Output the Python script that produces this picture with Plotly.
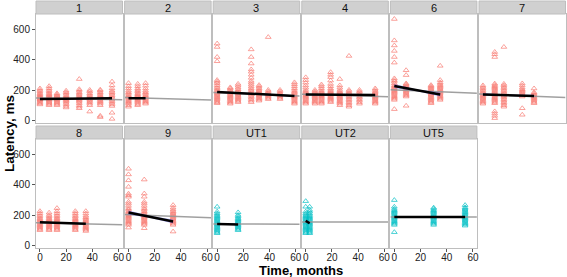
import plotly.graph_objects as go

# ---------------- data ----------------
panels = ["1", "2", "3", "4", "6", "7", "8", "9", "UT1", "UT2", "UT5"]
groups = ["A", "A", "A", "A", "A", "A", "A", "A", "UT", "UT", "UT"]

p1_t = [0, 7, 13, 20, 30, 38, 46, 55]
p1_y = [
    [105, 112, 120, 128, 135, 140, 146, 152, 158, 165, 172, 180, 190, 200, 210],
    [100, 108, 115, 122, 130, 138, 145, 150, 158, 165, 172, 180, 190, 200, 212, 225],
    [100, 108, 115, 122, 130, 137, 144, 150, 157, 163, 170, 178],
    [85, 95, 105, 115, 125, 133, 140, 148, 156, 165, 175, 185, 195],
    [80, 90, 100, 112, 122, 130, 138, 145, 152, 160, 168, 176, 185, 195, 205, 272],
    [58, 100, 110, 120, 128, 136, 144, 152, 160, 168, 178, 190, 200],
    [22, 30, 100, 110, 118, 126, 134, 142, 150, 158, 166, 175, 185, 195, 202],
    [10, 50, 95, 105, 115, 125, 135, 145, 155, 165, 175, 185, 195, 210, 230, 255],
]
p2_t = [0, 7, 13]
p2_y = [
    [90, 100, 110, 118, 126, 134, 142, 150, 158, 166, 175, 185, 195, 210, 225, 245],
    [100, 108, 116, 124, 132, 140, 148, 156, 164, 172, 180, 190, 200, 210, 225, 240],
    [110, 118, 126, 134, 142, 150, 158, 166, 175, 185, 195, 210, 228, 245],
]
p3_t = [0, 10, 16, 26, 32, 39, 48, 59]
p3_y = [
    [113, 120, 128, 136, 144, 152, 160, 168, 176, 184, 192, 200, 210, 220, 232, 245, 255, 265, 389, 417, 483, 505],
    [110, 118, 126, 134, 142, 150, 158, 166, 174, 182, 190, 200, 210, 217],
    [120, 128, 136, 144, 152, 160, 168, 176, 184, 194, 204, 215, 228, 240],
    [120, 130, 140, 150, 160, 170, 180, 190, 200, 210, 222, 235, 248, 260, 280, 300, 320, 335, 374, 417, 467],
    [130, 138, 146, 154, 162, 170, 178, 186, 194, 202, 212, 222, 232],
    [140, 148, 156, 164, 172, 180, 190, 200, 548],
    [140, 148, 156, 164, 172, 180, 190, 200],
    [110, 118, 126, 134, 142, 150, 158, 166, 174, 182, 190, 200, 212, 225, 238, 250],
]
p4_t = [0, 7, 12, 19, 26, 33, 41, 53]
p4_y = [
    [110, 118, 126, 134, 142, 150, 158, 166, 174, 182, 190, 200, 215, 230, 248, 265, 283],
    [110, 118, 126, 134, 142, 150, 158, 166, 174, 182, 190, 200],
    [110, 118, 126, 134, 142, 150, 158, 166, 174, 182, 190, 200, 212, 225, 236],
    [120, 128, 136, 144, 152, 160, 168, 176, 184, 192, 200, 210, 225, 240, 262, 285, 300, 317],
    [100, 110, 118, 126, 134, 142, 150, 158, 166, 174, 182, 190, 200, 215, 230, 272],
    [90, 100, 110, 120, 130, 140, 150, 160, 170, 180, 190, 200, 424],
    [110, 120, 130, 140, 150, 160, 170, 180, 190, 200],
    [110, 118, 126, 134, 142, 150, 158, 166, 174, 182, 190, 200, 210],
]
p6_t = [0, 9, 28, 35]
p6_y = [
    [74, 135, 143, 151, 159, 167, 175, 183, 191, 199, 207, 215, 223, 231, 243, 255, 265, 276, 380, 417, 457, 493, 526, 667],
    [96, 157, 165, 173, 181, 189, 197, 205, 213, 221, 229, 237, 243, 298, 330],
    [113, 121, 129, 137, 145, 153, 161, 169, 177, 185, 193, 201, 209, 217, 225, 232],
    [135, 143, 151, 159, 167, 175, 183, 191, 199, 207, 215, 223, 231, 240, 250, 265, 359],
]
p7_t = [0, 9, 16, 30, 39]
p7_y = [
    [110, 118, 126, 134, 142, 150, 158, 166, 174, 182, 190, 200, 210, 220, 230],
    [15, 30, 45, 59, 113, 121, 129, 137, 145, 153, 161, 169, 177, 185, 193, 201, 209, 217, 225, 233, 242, 417, 435, 450],
    [90, 100, 110, 120, 130, 140, 150, 160, 170, 180, 190, 200, 210, 220, 230, 240, 483],
    [37, 80, 157, 165, 173, 181, 189, 197, 205, 215, 230, 243],
    [113, 121, 129, 137, 145, 153, 161, 169, 177, 185, 210],
]
p8_t = [0, 7, 13, 27, 35]
p8_y = [
    [100, 108, 116, 124, 132, 140, 148, 156, 164, 172, 180, 190, 200, 212, 225],
    [100, 108, 116, 124, 132, 140, 148, 156, 164, 172, 180, 190, 200, 215],
    [100, 108, 116, 124, 132, 140, 148, 156, 164, 172, 180, 190, 200, 212, 225, 245],
    [100, 108, 116, 124, 132, 140, 148, 156, 164, 172, 180, 190, 200, 212, 225],
    [95, 103, 111, 119, 127, 135, 143, 151, 159, 167, 175, 185, 195, 210, 225],
]
p9_t = [0, 12, 34]
p9_y = [
    [117, 135, 143, 151, 159, 167, 175, 183, 191, 199, 207, 215, 225, 235, 245, 260, 275, 287, 320, 330, 340, 385, 428, 467, 504],
    [113, 135, 143, 151, 159, 167, 175, 183, 191, 199, 207, 215, 225, 235, 245, 260, 275, 287, 320, 341, 433],
    [91, 135, 143, 151, 159, 167, 175, 183, 191, 199, 207, 215, 225, 235, 248, 265],
]
ut1_t = [0, 16]
ut1_y = [
    [80, 88, 96, 104, 112, 120, 128, 136, 144, 152, 160, 168, 176, 184, 192, 200, 210, 222, 254],
    [100, 108, 116, 124, 132, 140, 148, 156, 164, 172, 180, 190, 200, 217],
]
ut2_t = [0, 3]
ut2_y = [
    [80, 88, 96, 104, 112, 120, 128, 136, 144, 152, 160, 168, 176, 184, 192, 200, 210, 222, 254, 291],
    [80, 88, 96, 104, 112, 120, 128, 136, 144, 152, 160, 168, 176, 184, 192, 200, 210, 222, 233, 254],
]
ut5_t = [0, 30, 54]
ut5_y = [
    [87, 135, 143, 151, 159, 167, 175, 183, 191, 199, 207, 215, 223, 231, 240, 254, 298],
    [135, 143, 151, 159, 167, 175, 183, 191, 199, 207, 215, 223, 231, 240, 248],
    [130, 138, 146, 154, 162, 170, 178, 186, 194, 202, 210, 218, 226, 234, 242, 250, 265],
]

panel_times = [p1_t, p2_t, p3_t, p4_t, p6_t, p7_t, p8_t, p9_t, ut1_t, ut2_t, ut5_t]
panel_vals = [p1_y, p2_y, p3_y, p4_y, p6_y, p7_y, p8_y, p9_y, ut1_y, ut2_y, ut5_y]

# per-panel fitted line (black) and its confidence band
fit_x0 = [0, 0, 0, 0, 0, 0, 0, 0, 0, 0, 0]
fit_x1 = [55, 13, 59, 53, 35, 39, 35, 34, 16, 3, 54]
fit_y0 = [141, 146, 187, 170, 226, 170, 152, 217, 141, 161, 187]
fit_y1 = [145, 146, 161, 168, 170, 161, 143, 157, 137, 146, 187]
ci_end = [4, 5, 5, 4, 13, 8, 4, 13, 5, 6, 4]
ci_mid = [2, 3, 3, 2, 6, 4, 2, 6, 3, 4, 2]

# model (grey) line: value at time 0 and slope per month
pop_b0 = [147, 150, 183, 172, 200, 172, 149, 202, 141, 154, 187]
pop_b1 = [-0.17, -0.25, -0.35, -0.25, -0.35, -0.33, -0.22, -0.32, -0.02, 0.0, 0.0]

group_color = {"A": "rgba(248,118,109,0.68)", "UT": "rgba(0,191,196,0.7)"}

x_ticks = [0, 20, 40, 60]
y_ticks = [0, 200, 400, 600]
x_range = [-3, 63]
y_range = [-17, 700]

# ---------------- layout geometry (pixels) ----------------
W, H = 567, 277
col_left = [36, 124.6, 213.2, 301.8, 390.4, 479]
col_w = 86.5
row_strip_top = [1, 126]
row_panel_top = [14, 139]
row_panel_bot = [123, 248]

FONT = "Liberation Sans, Arial"

fig = go.Figure()
layout = {}
shapes = []
annotations = []

for i, name in enumerate(panels):
    r, c = divmod(i, 6)
    ax = "" if i == 0 else str(i + 1)
    xref, yref = "x" + ax, "y" + ax
    col = group_color[groups[i]]

    # points
    xs, ys = [], []
    for t, vals in zip(panel_times[i], panel_vals[i]):
        xs += [t] * len(vals)
        ys += vals
    fig.add_trace(go.Scatter(
        x=xs, y=ys, mode="markers", xaxis=xref, yaxis=yref,
        marker=dict(symbol="triangle-up-open", size=5, color=col, line=dict(width=1)),
        showlegend=False, hoverinfo="skip"))

    # grey model line across the whole range
    gx = [x_range[0], x_range[1]]
    gy = [pop_b0[i] + pop_b1[i] * v for v in gx]
    fig.add_trace(go.Scatter(x=gx, y=gy, mode="lines", xaxis=xref, yaxis=yref,
                             line=dict(color="rgba(150,150,150,0.9)", width=1.5),
                             showlegend=False, hoverinfo="skip"))

    # confidence ribbon
    x0, x1 = fit_x0[i], fit_x1[i]
    xm = (x0 + x1) / 2
    y0, y1 = fit_y0[i], fit_y1[i]
    ym = (y0 + y1) / 2
    rx = [x0, xm, x1, x1, xm, x0, x0]
    ry = [y0 + ci_end[i], ym + ci_mid[i], y1 + ci_end[i],
          y1 - ci_end[i], ym - ci_mid[i], y0 - ci_end[i], y0 + ci_end[i]]
    fig.add_trace(go.Scatter(x=rx, y=ry, mode="lines", fill="toself", xaxis=xref, yaxis=yref,
                             fillcolor="rgba(70,70,255,0.4)", line=dict(width=0),
                             showlegend=False, hoverinfo="skip"))

    # black fitted line
    fig.add_trace(go.Scatter(x=[x0, x1], y=[y0, y1], mode="lines", xaxis=xref, yaxis=yref,
                             line=dict(color="black", width=2.5),
                             showlegend=False, hoverinfo="skip"))

    L = col_left[c]
    R = L + col_w
    top = row_panel_top[r]
    bot = row_panel_bot[r]
    layout["xaxis" + ax] = dict(
        domain=[L / W, R / W], range=x_range, anchor=yref, automargin=False,
        showgrid=False, zeroline=False, showline=True, mirror=True,
        linecolor="#BEBEBE", linewidth=1,
        tickvals=x_ticks, ticks="outside" if r == 1 else "", ticklen=3,
        tickcolor="#555555", showticklabels=(r == 1), ticklabelstandoff=-3,
        tickfont=dict(family=FONT, size=10, color="#222222"))
    layout["yaxis" + ax] = dict(
        domain=[1 - bot / H, 1 - top / H], range=y_range, anchor=xref, automargin=False,
        showgrid=False, zeroline=False, showline=True, mirror=True,
        linecolor="#BEBEBE", linewidth=1,
        tickvals=y_ticks, ticks="outside" if c == 0 else "", ticklen=3,
        tickcolor="#555555", showticklabels=(c == 0),
        tickfont=dict(family=FONT, size=10, color="#222222"))

    # strip
    shapes.append(dict(type="rect", xref="paper", yref="paper",
                       x0=L / W, x1=R / W,
                       y0=1 - top / H, y1=1 - row_strip_top[r] / H,
                       fillcolor="#D0D0D0", line=dict(color="#BEBEBE", width=1), layer="above"))
    annotations.append(dict(text=name, xref="paper", yref="paper",
                            x=(L + R) / 2 / W, y=1 - (row_strip_top[r] + top) / 2 / H,
                            showarrow=False, xanchor="center", yanchor="middle",
                            font=dict(family=FONT, size=11, color="#111111")))

annotations.append(dict(text="<b>Time, months</b>", xref="paper", yref="paper",
                        x=301 / W, y=1 - 270.5 / H, showarrow=False,
                        xanchor="center", yanchor="middle",
                        font=dict(family=FONT, size=13, color="black")))
annotations.append(dict(text="<b>Latency, ms</b>", xref="paper", yref="paper",
                        x=9 / W, y=1 - 134 / H, showarrow=False, textangle=-90,
                        xanchor="center", yanchor="middle",
                        font=dict(family=FONT, size=13.5, color="black")))

fig.update_layout(
    width=W, height=H, margin=dict(l=0, r=0, t=0, b=0, autoexpand=False),
    paper_bgcolor="white", plot_bgcolor="white",
    shapes=shapes, annotations=annotations, showlegend=False, **layout)

fig.write_html("out.html", config={"displayModeBar": False, "staticPlot": True},
               post_script="document.body.style.margin='0';document.body.style.overflow='hidden';")
